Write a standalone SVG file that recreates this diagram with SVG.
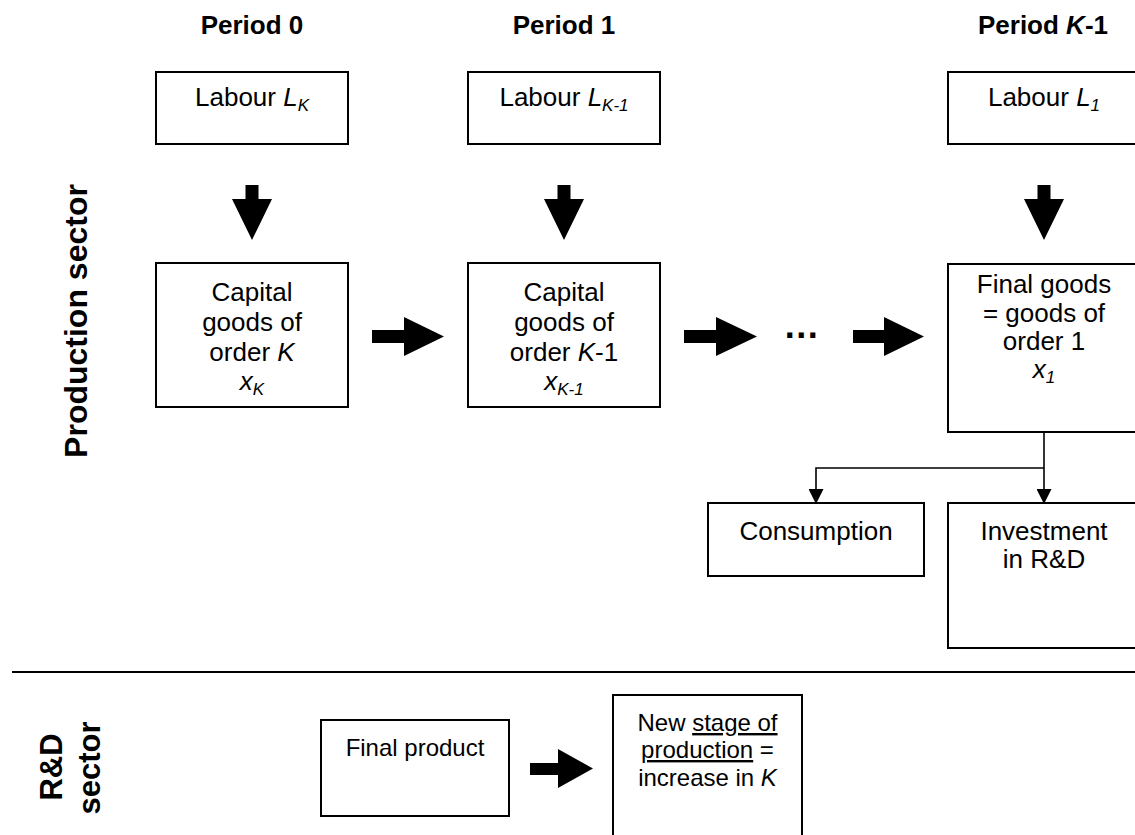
<svg xmlns="http://www.w3.org/2000/svg" width="1135" height="835" viewBox="0 0 1135 835">
<style>
text{font-family:"Liberation Sans",Arial,sans-serif;fill:#000}
.t{font-size:26px;text-anchor:middle}
.s{font-size:24px;text-anchor:middle}
.h{font-size:26px;font-weight:bold;text-anchor:middle}
.side{font-weight:bold;text-anchor:middle}
.box{fill:#fff;stroke:#000;stroke-width:2}
.big{fill:#000}
.con{fill:none;stroke:#000;stroke-width:1.6}
.sub{font-size:17px;font-style:italic}
.i{font-style:italic}
</style>
<defs>
<marker id="ah" markerWidth="15" markerHeight="15" refX="14" refY="7.5" orient="auto" markerUnits="userSpaceOnUse">
<path d="M0,0 L15,7.5 L0,15 Z" fill="#000"/>
</marker>
</defs>

<g id="headers">
<text class="h" x="252" y="34">Period 0</text>
<text class="h" x="564" y="34">Period 1</text>
<text class="h" x="1043" y="34">Period <tspan font-style="italic">K</tspan>-1</text>
</g>

<g id="side-labels">
<text class="side" font-size="32" transform="translate(87,321) rotate(-90)">Production sector</text>
<text class="side" font-size="31" transform="translate(62,767) rotate(-90)">R&amp;D</text>
<text class="side" font-size="31" transform="translate(100,768) rotate(-90)">sector</text>
</g>

<line x1="12" y1="672" x2="1135" y2="672" stroke="#000" stroke-width="2"/>

<g id="labour0">
<rect class="box" x="156" y="72" width="192" height="72"/>
<text class="t" x="252" y="106">Labour <tspan class="i">L</tspan><tspan class="sub" dy="5">K</tspan></text>
</g>
<g id="labour1">
<rect class="box" x="468" y="72" width="192" height="72"/>
<text class="t" x="564" y="106">Labour <tspan class="i">L</tspan><tspan class="sub" dy="5">K-1</tspan></text>
</g>
<g id="labour2">
<rect class="box" x="948" y="72" width="192" height="72"/>
<text class="t" x="1044" y="106">Labour <tspan class="i">L</tspan><tspan class="sub" dy="5">1</tspan></text>
</g>

<g id="capitalK">
<rect class="box" x="156" y="263" width="192" height="144"/>
<text class="t" x="252" y="301">Capital</text>
<text class="t" x="252" y="331">goods of</text>
<text class="t" x="252" y="361">order <tspan class="i">K</tspan></text>
<text class="t" x="252" y="390"><tspan class="i">x</tspan><tspan class="sub" dy="5">K</tspan></text>
</g>
<g id="capitalK1">
<rect class="box" x="468" y="263" width="192" height="144"/>
<text class="t" x="564" y="301">Capital</text>
<text class="t" x="564" y="331">goods of</text>
<text class="t" x="564" y="361">order <tspan class="i">K</tspan>-1</text>
<text class="t" x="564" y="390"><tspan class="i">x</tspan><tspan class="sub" dy="5">K-1</tspan></text>
</g>
<g id="finalgoods">
<rect class="box" x="948" y="264" width="192" height="168"/>
<text class="t" x="1044" y="293">Final goods</text>
<text class="t" x="1044" y="322">= goods of</text>
<text class="t" x="1044" y="350">order 1</text>
<text class="t" x="1044" y="378"><tspan class="i">x</tspan><tspan class="sub" dy="5">1</tspan></text>
</g>

<g id="dots">
<text x="802" y="338" font-size="36" font-weight="bold" text-anchor="middle" letter-spacing="1.5">...</text>
</g>

<g id="consumption">
<rect class="box" x="708" y="503" width="216" height="73"/>
<text class="t" x="816" y="540">Consumption</text>
</g>
<g id="investment">
<rect class="box" x="948" y="503" width="192" height="145"/>
<text class="t" x="1044" y="540">Investment</text>
<text class="t" x="1044" y="568">in R&amp;D</text>
</g>

<g id="finalproduct">
<rect class="box" x="321" y="720" width="188" height="96"/>
<text class="s" x="415" y="756">Final product</text>
</g>
<g id="newstage">
<rect class="box" x="613" y="695" width="189" height="150"/>
<text class="s" x="707.5" y="731">New <tspan text-decoration="underline">stage of</tspan></text>
<text class="s" x="707.5" y="758"><tspan text-decoration="underline">production</tspan> =</text>
<text class="s" x="707.5" y="786">increase in <tspan class="i">K</tspan></text>
</g>

<g id="connectors">
<polygon class="big" points="245.5,185 258.5,185 258.5,199 272,199 252,240 232,199 245.5,199"/>
<polygon class="big" points="557.5,185 570.5,185 570.5,199 584,199 564,240 544,199 557.5,199"/>
<polygon class="big" points="1037.5,185 1050.5,185 1050.5,199 1064,199 1044,240 1024,199 1037.5,199"/>
<polygon class="big" points="372,330 404,330 404,317 444,336.5 404,356 404,343 372,343"/>
<polygon class="big" points="684,330 716,330 716,317 757,336.5 716,356 716,343 684,343"/>
<polygon class="big" points="853,330 884,330 884,317 924,336.5 884,356 884,343 853,343"/>
<polygon class="big" points="530,763 558,763 558,749 593,768.5 558,788 558,775 530,775"/>
<line class="con" x1="1044" y1="432" x2="1044" y2="503" marker-end="url(#ah)"/>
<polyline class="con" points="1044,468 816,468 816,503" marker-end="url(#ah)"/>
</g>
</svg>
